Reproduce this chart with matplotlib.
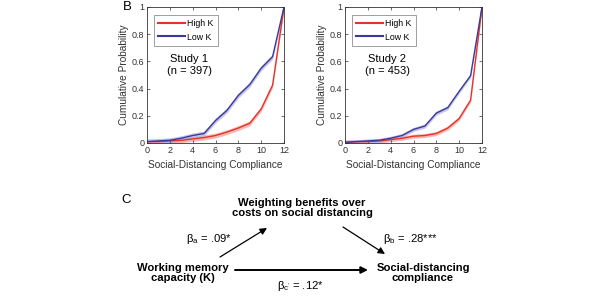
import numpy as np
import matplotlib.pyplot as plt

plt.rcParams['font.family'] = ['Liberation Sans', 'DejaVu Sans']

compliance = np.arange(0, 13)

# Study 1 cumulative probabilities
s1_high = [0.01, 0.01, 0.015, 0.02, 0.03, 0.04, 0.055, 0.08, 0.11, 0.145, 0.25, 0.425, 1.0]
s1_low = [0.01, 0.015, 0.02, 0.035, 0.055, 0.07, 0.165, 0.24, 0.35, 0.43, 0.55, 0.635, 1.0]
s1_err = 0.018

# Study 2 cumulative probabilities
s2_high = [0.005, 0.01, 0.01, 0.015, 0.025, 0.035, 0.05, 0.055, 0.07, 0.11, 0.18, 0.315, 1.0]
s2_low = [0.005, 0.01, 0.015, 0.02, 0.035, 0.055, 0.1, 0.125, 0.22, 0.26, 0.38, 0.495, 1.0]
s2_err = 0.015

studies = [("Study 1\n(n = 397)", s1_high, s1_low, s1_err),
           ("Study 2\n(n = 453)", s2_high, s2_low, s2_err)]

red = '#e8312a'
blue = '#3a3a9a'

fig = plt.figure(figsize=(6, 3), dpi=100)

lefts = [147 / 600, 345 / 600]
for left, (title, high, low, err) in zip(lefts, studies):
    ax = fig.add_axes([left, 1 - 143 / 300, 137 / 600, 136 / 300])
    high = np.array(high)
    low = np.array(low)
    ax.fill_between(compliance, high - err, high + err, color='#f4a7a0', lw=0, alpha=0.8)
    ax.fill_between(compliance, low - err, low + err, color='#b4b4e6', lw=0, alpha=0.8)
    ax.plot(compliance, high, color=red, lw=1.0, label='High K')
    ax.plot(compliance, low, color=blue, lw=1.0, label='Low K')
    ax.set_xlim(0, 12)
    ax.set_ylim(0, 1)
    ax.set_xticks(range(0, 13, 2))
    ax.set_yticks([0, 0.2, 0.4, 0.6, 0.8, 1])
    ax.set_yticklabels(['0', '0.2', '0.4', '0.6', '0.8', '1'])
    ax.tick_params(labelsize=6.5, length=2, width=0.5, direction='in', pad=2, top=True, right=True,
                   colors='#333333', labelcolor='#333333')
    for s in ax.spines.values():
        s.set_linewidth(0.6)
        s.set_color('#333333')
    ax.set_xlabel('Social-Distancing Compliance', fontsize=7.3, labelpad=4, color='#333333')
    ax.set_ylabel('Cumulative Probability', fontsize=7.3, labelpad=2, color='#333333')
    ax.text(0.31, 0.575, title, transform=ax.transAxes, fontsize=8, ha='center', va='center')
    leg = ax.legend(loc='upper left', fontsize=6.3, handlelength=3.0, borderpad=0.5,
                    labelspacing=0.5, handletextpad=0.3, fancybox=False,
                    bbox_to_anchor=(0.02, 0.975))
    leg.get_frame().set_edgecolor('#555555')
    leg.get_frame().set_linewidth(0.5)
    for h in leg.get_lines():
        h.set_linewidth(1.5)

fig.text(123 / 600, 1 - 7 / 300, 'B', fontsize=9.5, va='center', ha='left')

# Panel C: mediation diagram
dax = fig.add_axes([0, 0, 1, 1])
dax.set_xlim(0, 600)
dax.set_ylim(300, 0)
dax.axis('off')
dax.patch.set_alpha(0)

fs = 8.1
dax.text(121, 200, 'C', fontsize=9.5, va='center', ha='left')
dax.text(302, 208, 'Weighting benefits over\ncosts on social distancing', fontsize=fs,
         fontweight='bold', ha='center', va='center', linespacing=1.05)
dax.text(183, 273, 'Working memory\ncapacity (K)', fontsize=fs, fontweight='bold',
         ha='center', va='center', linespacing=1.05)
dax.text(423, 273, 'Social-distancing\ncompliance', fontsize=fs, fontweight='bold',
         ha='center', va='center', linespacing=1.05)

arrow = dict(arrowstyle='-|>', color='black', lw=0.9, mutation_scale=10, shrinkA=0, shrinkB=0)
dax.annotate('', xy=(267, 228), xytext=(220, 257), arrowprops=arrow)
dax.annotate('', xy=(385, 254), xytext=(343, 227), arrowprops=arrow)
dax.annotate('', xy=(368, 270), xytext=(235, 270), arrowprops=dict(arrow, lw=1.4))

dax.text(186, 239, r'β$_{\mathregular{a}}$ = .09*', fontsize=fs, ha='left', va='center')
dax.text(383, 239, r'β$_{\mathregular{b}}$ = .28***', fontsize=fs, ha='left', va='center')
dax.text(277, 286, r"β$_{\mathregular{c'}}$ = .12*", fontsize=fs, ha='left', va='center')

fig.savefig('out.png', dpi=100)
